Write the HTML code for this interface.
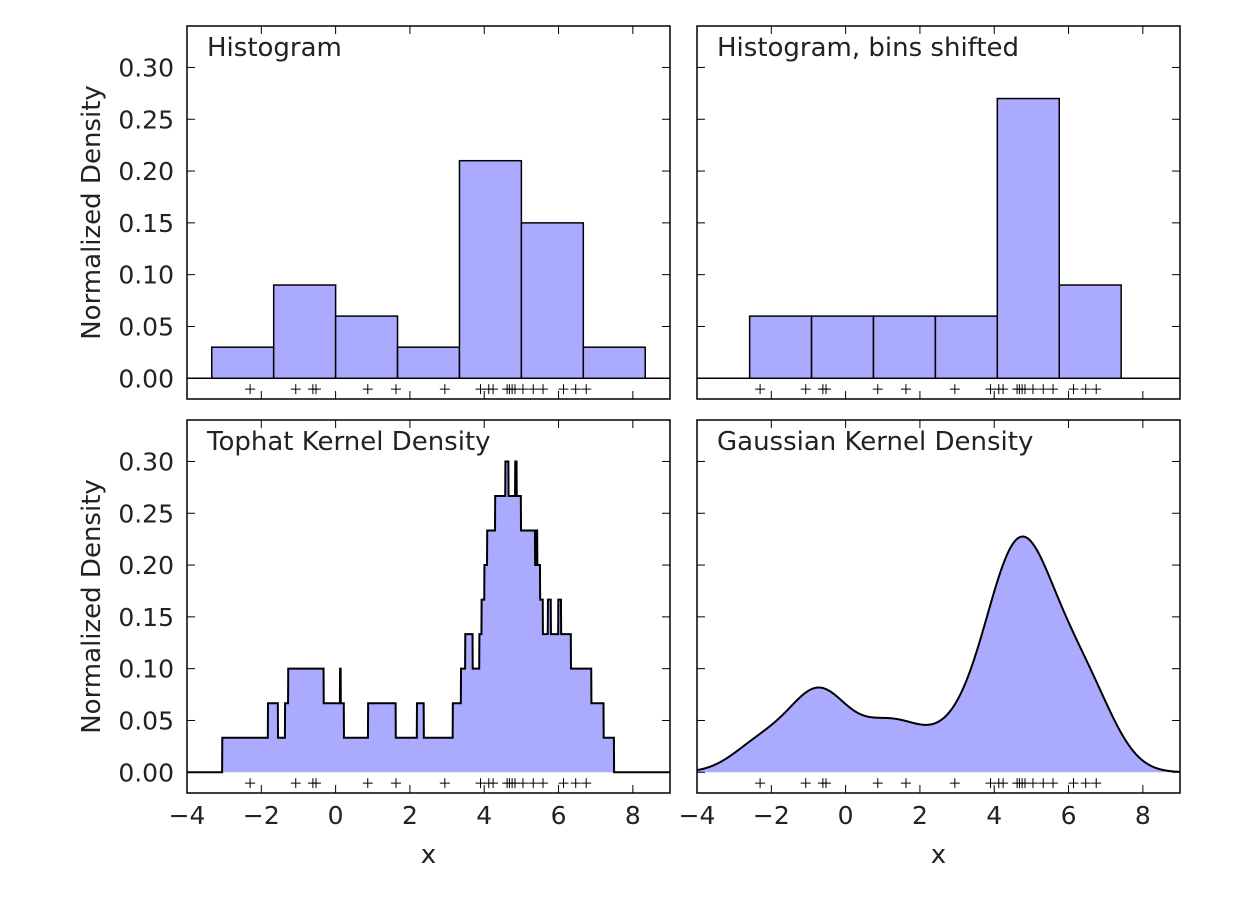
<!DOCTYPE html>
<html><head><meta charset="utf-8"><style>
body{margin:0;background:#fff;}
svg text{font-family:"DejaVu Sans","Liberation Sans",sans-serif;fill:#222;}
</style></head><body>
<svg id="c" width="1252" height="900" xmlns="http://www.w3.org/2000/svg"></svg>
<script>
const samples = [1.62434536,-0.61175641,-0.52817175,-1.07296862,0.86540763,-2.3015387,6.74481176,4.2387931,5.3190391,4.75062962,6.46210794,2.93985929,4.6775828,4.61594565,6.13376944,3.90010873,4.82757179,4.12214158,5.04221375,5.58281521];
const histEdges = [-3.3333,-1.6667,0,1.6667,3.3333,5,6.6667,8.3333];
const histHeights = [0.03,0.09,0.06,0.03,0.21,0.15,0.03];
const shiftEdges = [-2.5833,-0.9167,0.75,2.4167,4.0833,5.75,7.4167];
const shiftHeights = [0.06,0.06,0.06,0.06,0.27,0.09];
const xTicks = [-4,-2,0,2,4,6,8];
const yTicks = [0,0.05,0.10,0.15,0.20,0.25,0.30];
const yTickLabels = ["0.00","0.05","0.10","0.15","0.20","0.25","0.30"];
const bandwidth = 0.75;
const titles = ["Histogram","Histogram, bins shifted","Tophat Kernel Density","Gaussian Kernel Density"];

const svg=document.getElementById('c');
const NS='http://www.w3.org/2000/svg';
function mk(t,a,p){const e=document.createElementNS(NS,t);for(const k in a)e.setAttribute(k,a[k]);(p||svg).appendChild(e);return e;}
const panels=[{x0:187,y0:26,col:0,row:0},{x0:697,y0:26,col:1,row:0},{x0:187,y0:420,col:0,row:1},{x0:697,y0:420,col:1,row:1}];
const W=483,H=373,XMIN=-4,XMAX=9,YMIN=-0.02,YMAX=0.34;

panels.forEach((p,i)=>{
  const g=mk('g',{});
  
  
  const sx=v=>p.x0+(v-XMIN)/(XMAX-XMIN)*W;
  const sy=v=>p.y0+(YMAX-v)/(YMAX-YMIN)*H;
  const cp=mk('clipPath',{id:'cp'+i},g);mk('rect',{x:p.x0,y:p.y0,width:W,height:H},cp);
  const inner=mk('g',{'clip-path':'url(#cp'+i+')'},g);
  if(i<2){
    const E=i==0?histEdges:shiftEdges,Hh=i==0?histHeights:shiftHeights;
    mk('line',{x1:p.x0,x2:p.x0+W,y1:sy(0),y2:sy(0),stroke:'#000','stroke-width':1.5},inner);
    Hh.forEach((h,j)=>{
      const r=mk('rect',{x:sx(E[j]),y:sy(h),width:sx(E[j+1])-sx(E[j]),height:sy(0)-sy(h),fill:'#AAAAFF',stroke:'#000','stroke-width':1.5},inner);
      
      
    });
  } else {
    const n=3000;let pts=[];
    for(let k=0;k<=n;k++){const x=-5+15*k/n;let d=0;
      samples.forEach(s=>{const u=(x-s)/bandwidth;
        if(i==2){if(Math.abs(u)<1)d+=0.5/bandwidth;}else d+=Math.exp(-0.5*u*u)/Math.sqrt(2*Math.PI)/bandwidth;});
      d/=samples.length;pts.push([sx(x),sy(d)]);}
    const dstr='M'+pts.map(q=>q[0].toFixed(2)+','+q[1].toFixed(2)).join('L');
    const f=mk('path',{d:dstr+'L'+pts[n][0]+','+sy(0)+'L'+pts[0][0]+','+sy(0)+'Z',fill:'#AAAAFF',stroke:'none'},inner);
    
    
    const l=mk('path',{d:dstr,fill:'none',stroke:'#000','stroke-width':2},inner);
    
    
  }
  samples.forEach(s=>{const x=sx(s),y=sy(-0.0105);
    const m=mk('path',{d:`M${x-5},${y}H${x+5}M${x},${y-5}V${y+5}`,stroke:'#000','stroke-width':1},inner);
    
    
  });
  mk('rect',{x:p.x0,y:p.y0,width:W,height:H,fill:'none',stroke:'#000','stroke-width':1.5},g);
  xTicks.forEach(t=>{const x=sx(t);
    mk('line',{x1:x,x2:x,y1:p.y0+H,y2:p.y0+H-8,stroke:'#000'},g);
    mk('line',{x1:x,x2:x,y1:p.y0,y2:p.y0+8,stroke:'#000'},g);
    if(p.row==1){const tx=mk('text',{x:x,y:p.y0+H+31,'font-size':25,'text-anchor':'middle'},g);tx.textContent=(t<0?'\u2212'+(-t):t);
      }
  });
  yTicks.forEach((t,j)=>{const y=sy(t);
    mk('line',{x1:p.x0,x2:p.x0+8,y1:y,y2:y,stroke:'#000'},g);
    mk('line',{x1:p.x0+W,x2:p.x0+W-8,y1:y,y2:y,stroke:'#000'},g);
    if(p.col==0){const tx=mk('text',{x:p.x0-13,y:y+9,'font-size':25,'text-anchor':'end'},g);tx.textContent=yTickLabels[j];
      }
  });
  const tt=mk('text',{x:p.x0+20,y:p.y0+30,'font-size':26},g);tt.textContent=titles[i];
  
  if(p.col==0){const yl=mk('text',{x:0,y:0,'font-size':26,'text-anchor':'middle',transform:`translate(100,${p.y0+H/2}) rotate(-90)`},g);yl.textContent='Normalized Density';
    }
  if(p.row==1){const xl=mk('text',{x:p.x0+W/2,y:863,'font-size':26,'text-anchor':'middle'},g);xl.textContent='x';
    }
});
</script>
</body></html>
